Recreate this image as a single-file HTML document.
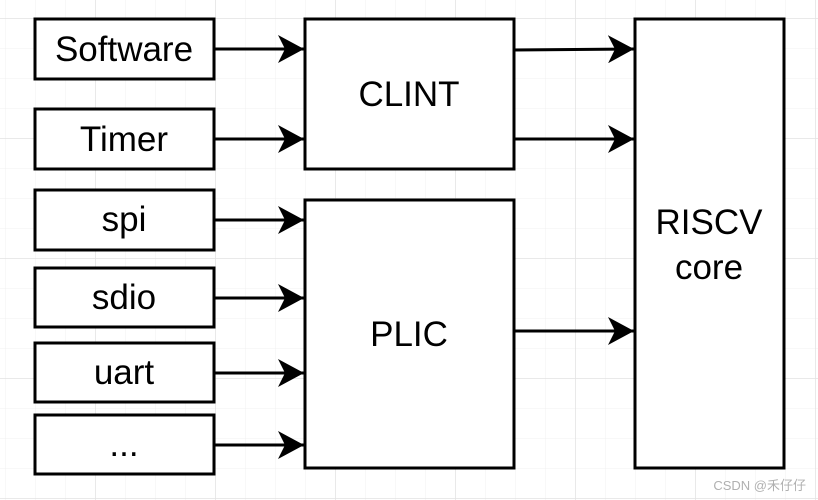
<!DOCTYPE html>
<html><head><style>
html,body{margin:0;padding:0;background:#fff;}
svg{display:block;}
text{font-family:"Liberation Sans",sans-serif;font-size:35px;fill:#000;}
</style></head><body>
<svg width="818" height="500" viewBox="0 0 818 500" xmlns="http://www.w3.org/2000/svg">
<defs>
<pattern id="minor" width="30" height="30" patternUnits="userSpaceOnUse" x="5" y="18">
<path d="M0 0H30M0 0V30" stroke="#f0f0f0" stroke-width="1" fill="none"/>
</pattern>
<pattern id="major" width="120" height="120" patternUnits="userSpaceOnUse" x="95" y="18">
<path d="M0 0H120M0 0V120" stroke="#e2e2e2" stroke-width="1.5" fill="none"/>
</pattern>
<marker id="ah" markerWidth="26" markerHeight="28" refX="26" refY="14" orient="auto" markerUnits="userSpaceOnUse">
<path d="M0 0 L26 14 L0 28 L7 14 Z" fill="#000"/>
</marker>
</defs>
<rect width="818" height="500" fill="url(#minor)"/>
<rect width="818" height="500" fill="url(#major)"/>
<g fill="#fff" stroke="#000" stroke-width="3">
<rect x="35" y="19" width="179" height="60"/>
<rect x="35" y="109" width="179" height="60"/>
<rect x="35" y="190" width="179" height="60"/>
<rect x="35" y="268" width="179" height="59"/>
<rect x="35" y="343" width="179" height="59"/>
<rect x="35" y="415" width="179" height="59"/>
<rect x="305" y="19" width="209" height="150"/>
<rect x="305" y="200" width="209" height="268"/>
<rect x="635" y="19" width="149" height="449"/>
</g>
<g stroke="#000" stroke-width="3" marker-end="url(#ah)">
<line x1="214" y1="49" x2="304" y2="49"/>
<line x1="214" y1="139" x2="304" y2="139"/>
<line x1="214" y1="220" x2="304" y2="220"/>
<line x1="214" y1="298" x2="304" y2="298"/>
<line x1="214" y1="373" x2="304" y2="373"/>
<line x1="214" y1="445" x2="304" y2="445"/>
<line x1="514" y1="50" x2="634" y2="49"/>
<line x1="514" y1="139" x2="634" y2="139"/>
<line x1="514" y1="331" x2="634" y2="331"/>
</g>
<g text-anchor="middle">
<text x="124" y="61">Software</text>
<text x="124" y="151">Timer</text>
<text x="124" y="231">spi</text>
<text x="124" y="309">sdio</text>
<text x="124" y="384">uart</text>
<text x="124" y="456">...</text>
<text x="409" y="106">CLINT</text>
<text x="409" y="346">PLIC</text>
<text x="709" y="234">RISCV</text>
<text x="709" y="279">core</text>
</g>
<text x="806" y="490" text-anchor="end" style="font-size:13px;fill:#b0b0b0;font-family:'Liberation Sans','Noto Sans CJK SC',sans-serif;">CSDN @禾仔仔</text>
</svg>
</body></html>
